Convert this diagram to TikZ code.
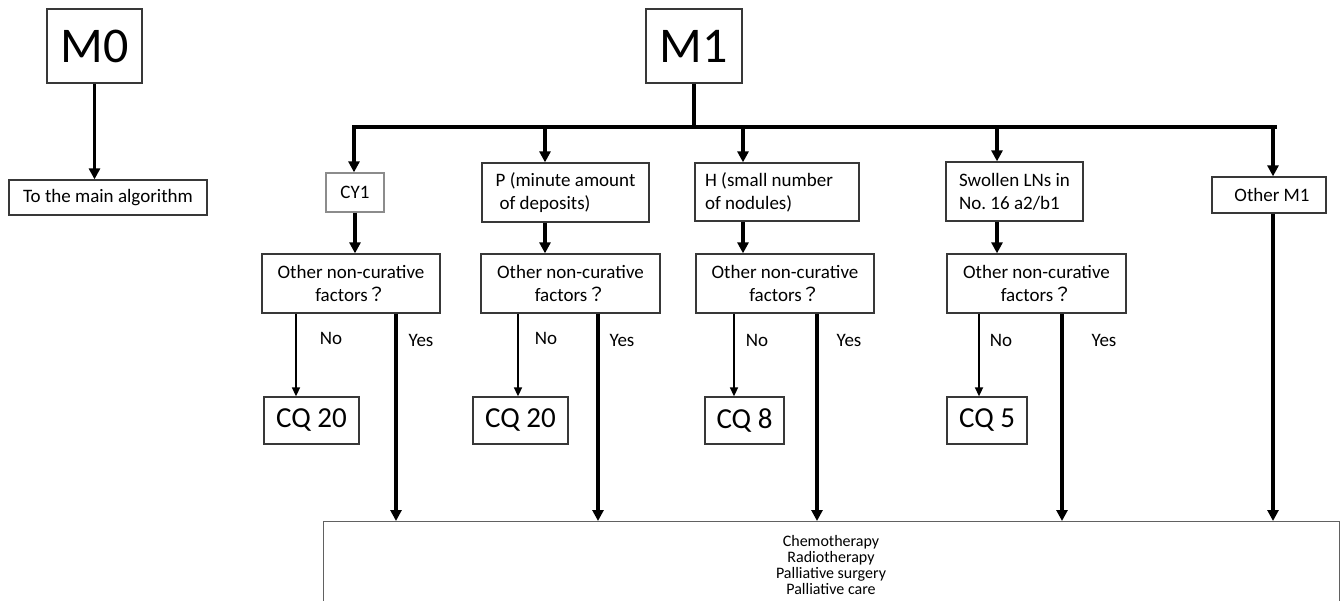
\documentclass[tikz,border=0pt]{standalone}
\usepackage{fontspec}
\setmainfont{Carlito}
\newfontfamily\cjk{Noto Sans CJK JP}
\usetikzlibrary{arrows.meta}
\begin{document}
\begin{tikzpicture}[x=1pt,y=-1pt,
  box/.style={draw=black!78, line width=1.3pt, inner sep=0pt, align=center, font=\fontsize{19}{23}\selectfont},
  lbox/.style={box, align=left},
  big/.style={box, font=\fontsize{50}{56}\selectfont},
  cq/.style={box, font=\fontsize{29}{33}\selectfont},
  lbl/.style={font=\fontsize{19}{23}\selectfont, inner sep=0pt},
  thk/.style={line width=3.2pt, -{Triangle[length=11pt,width=11pt]}},
  thn/.style={line width=1.6pt, -{Triangle[length=9pt,width=8pt]}},
  bar/.style={line width=3.2pt}]
\useasboundingbox (0,0) rectangle (1340,600);
% top level
\node[big, minimum width=95pt, minimum height=74pt] (m0) at (94.5,46) {M0};
\node[box, minimum width=198pt, minimum height=35pt] (main) at (108,197.5) {To the main algorithm};
\node[big, minimum width=96pt, minimum height=74pt] (m1) at (694,46) {M1};
% first row
\node[box, draw=black!45, minimum width=58pt, minimum height=39pt] (cy1) at (355,192.5) {CY1};
\node[lbox, minimum width=167pt, minimum height=59pt] (p) at (565.5,192.5) {P (minute amount\\\hspace*{4pt}of deposits)};
\node[lbox, minimum width=164pt, minimum height=58pt] (h) at (777,192) {\hspace*{4pt}H (small number\\\hspace*{4pt}of nodules)\hphantom{mmmm}};
\node[lbox, minimum width=137pt, minimum height=59pt] (sw) at (1014.5,191.5) {Swollen LNs in\\No.\ 16 a2/b1};
\node[box, minimum width=114pt, minimum height=36pt] (om) at (1269,195) {\hspace*{6pt}Other M1};
% question row
\node[box, minimum width=178pt, minimum height=59pt] (q1) at (351,283.5) {Other non-curative\\factors{\cjk ？}};
\node[box, minimum width=179pt, minimum height=59pt] (q2) at (570.5,283.5) {Other non-curative\\factors{\cjk ？}};
\node[box, minimum width=178pt, minimum height=59pt] (q3) at (785,283.5) {Other non-curative\\factors{\cjk ？}};
\node[box, minimum width=179pt, minimum height=59pt] (q4) at (1036.5,283.5) {Other non-curative\\factors{\cjk ？}};
% CQ row
\node[cq, minimum width=95pt, minimum height=47pt] (cq1) at (311.5,420.5) {CQ 20};
\node[cq, minimum width=95pt, minimum height=47pt] (cq2) at (520.5,420.5) {CQ 20};
\node[cq, minimum width=79pt, minimum height=47pt] (cq3) at (744.5,420.5) {CQ 8};
\node[cq, minimum width=80pt, minimum height=47pt] (cq4) at (987,420.5) {CQ 5};
% bottom box
\node[draw=black!62, line width=1.3pt, minimum width=1016pt, minimum height=140pt, inner sep=0pt, anchor=north west] (bot) at (323,521) {};
\node[align=center, anchor=north, inner sep=0pt, font=\fontsize{16}{16.2}\selectfont] (bottxt) at (831,535) {Chemotherapy\\Radiotherapy\\Palliative surgery\\Palliative care};
% labels
\node[lbl] (no1) at (331,338) {No};
\node[lbl] (no2) at (546,338) {No};
\node[lbl] (no3) at (757,340) {No};
\node[lbl] (no4) at (1001,340) {No};
\node[lbl] (ye1) at (421,340) {Yes};
\node[lbl] (ye2) at (622,340) {Yes};
\node[lbl] (ye3) at (849,340) {Yes};
\node[lbl] (ye4) at (1104,340) {Yes};
% coordinates
\coordinate (bL) at (354,127);
\coordinate (bR) at (1275,127);
\coordinate (b2) at (545,127);
\coordinate (b3) at (743,127);
\coordinate (b4) at (997,127);
\coordinate (b5) at (1273,127);
\coordinate (n1) at (296,0);
\coordinate (n2) at (518,0);
\coordinate (n3) at (734,0);
\coordinate (n4) at (979,0);
\coordinate (y1) at (396,0);
\coordinate (y2) at (598,0);
\coordinate (y3) at (817,0);
\coordinate (y4) at (1062,0);
% connectors
\draw[thk] (m0.south) -- (m0.south |- main.north);
\draw[bar] (m1.south) -- (m1.south |- bL);
\draw[bar] ([xshift=-1.6pt]bL) -- ([xshift=1.6pt]bR);
\draw[thk] (bL) -- (bL |- cy1.north);
\draw[thk] (b2) -- (b2 |- p.north);
\draw[thk] (b3) -- (b3 |- h.north);
\draw[thk] (b4) -- (b4 |- sw.north);
\draw[thk] (b5) -- (b5 |- om.north);
\draw[thk] (cy1.south) -- (cy1.south |- q1.north);
\draw[thk] (b2 |- p.south) -- (b2 |- q2.north);
\draw[thk] (b3 |- h.south) -- (b3 |- q3.north);
\draw[thk] (b4 |- sw.south) -- (b4 |- q4.north);
\draw[thn] (n1 |- q1.south) -- (n1 |- cq1.north);
\draw[thn] (n2 |- q2.south) -- (n2 |- cq2.north);
\draw[thn] (n3 |- q3.south) -- (n3 |- cq3.north);
\draw[thn] (n4 |- q4.south) -- (n4 |- cq4.north);
\draw[thk] (y1 |- q1.south) -- (y1 |- bot.north);
\draw[thk] (y2 |- q2.south) -- (y2 |- bot.north);
\draw[thk] (y3 |- q3.south) -- (y3 |- bot.north);
\draw[thk] (y4 |- q4.south) -- (y4 |- bot.north);
\draw[thk] (b5 |- om.south) -- (b5 |- bot.north);
\end{tikzpicture}
\end{document}
